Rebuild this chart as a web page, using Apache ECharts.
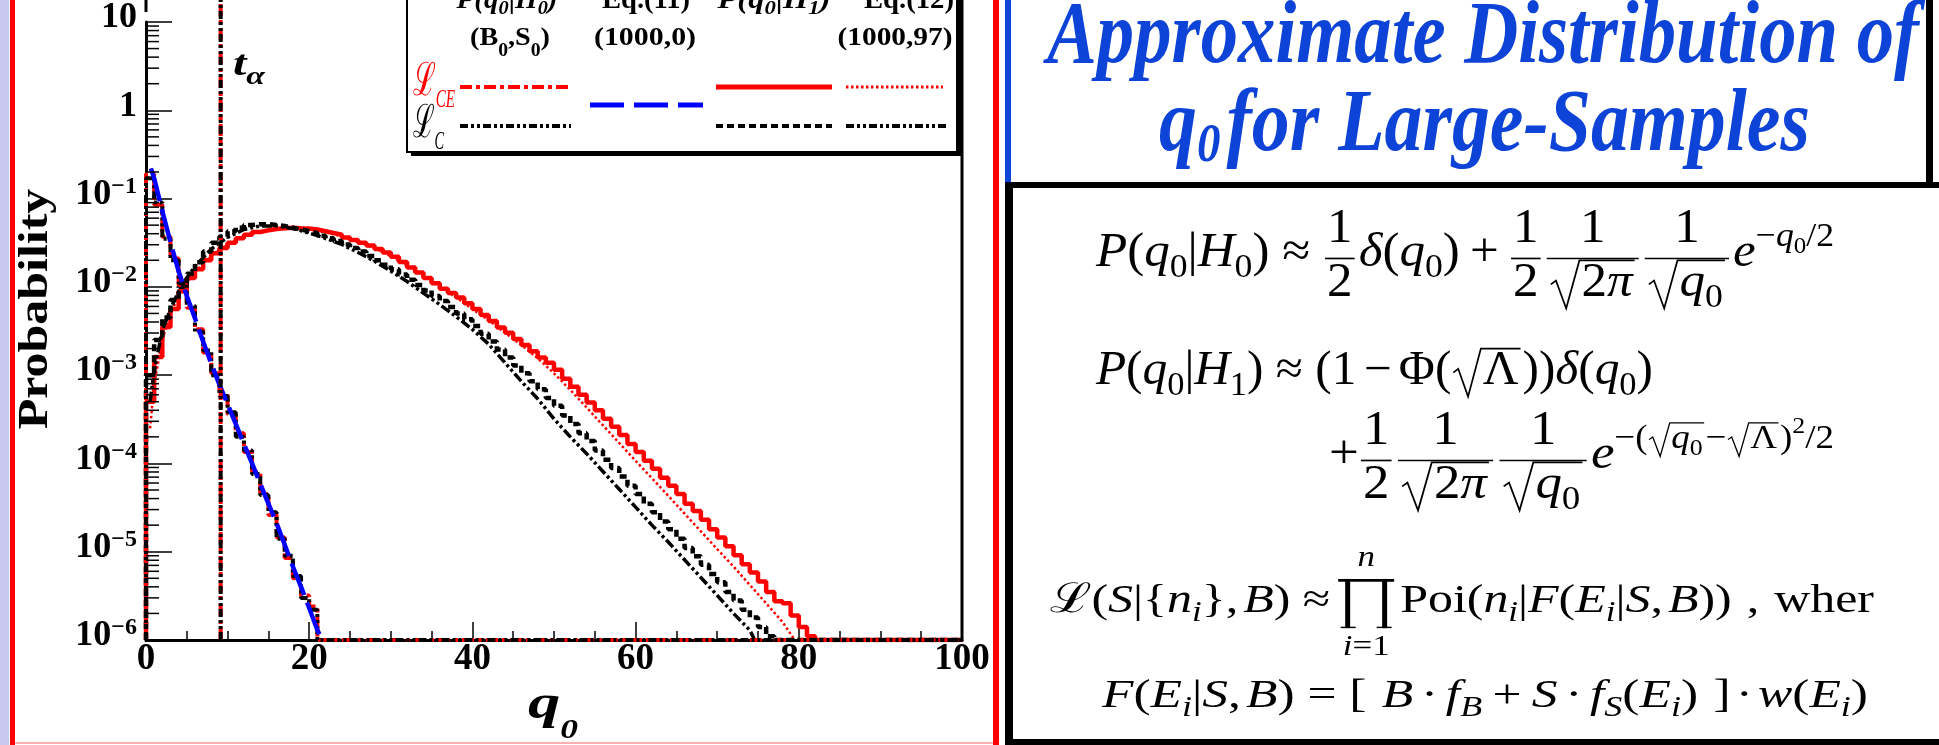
<!DOCTYPE html>
<html><head><meta charset="utf-8">
<style>html,body{margin:0;padding:0;background:#fff}#c{width:1939px;height:745px}</style>
<script src="https://cdn.jsdelivr.net/npm/echarts@6/dist/echarts.min.js"></script>
</head><body><div id="c"></div>
<script>
// ---------------- DATA ----------------
const xTickLabels = ['0','20','40','60','80','100'];
const tAlpha = 9.15;
const floorVal = 1e-6;
// P(q0|H0), L_CE (red dash-dot) : bins of width 1 starting at 0
const h0CE = [0.19,0.085,0.037,0.021,0.0105,0.0058,0.0033,0.0018,0.00105,6.1e-4,3.6e-4,2.2e-4,1.35e-4,8.0e-5,4.5e-5,2.6e-5,1.45e-5,8.5e-6,5.0e-6,3.2e-6,2.4e-6];
// P(q0|H0), L_C (black dash-dot-dot)
const h0C = [0.17,0.09,0.035,0.02,0.011,0.0061,0.0031,0.0019,0.001,5.8e-4,3.8e-4,2.0e-4,1.4e-4,7.6e-5,4.4e-5,2.8e-5,1.4e-5,9.0e-6,5.3e-6,3.0e-6,2.2e-6];
// Eq.(11) blue dashed curve
const eq11Q = [0.6,1,2,3,4,5,6,7,8,9,10,11,12,13,14,15,16,17,18,19,20,21,21.6];
const eq11V = [0.22,0.17,0.072,0.032,0.015,7.9e-3,4.4e-3,2.4e-3,1.35e-3,7.8e-4,4.7e-4,2.8e-4,1.66e-4,1.0e-4,5.9e-5,3.5e-5,2.1e-5,1.2e-5,6.8e-6,4.0e-6,2.3e-6,1.3e-6,1.0e-6];
// P(q0|H1), L_CE (red solid histogram)
const h1CE = [5.0e-4,1.6e-3,3.5e-3,5.6e-3,8.9e-3,0.0126,0.0158,0.020,0.024,0.0275,
0.0316,0.0355,0.039,0.0417,0.0437,0.0452,0.0462,0.0468,0.0462,0.0457,
0.0447,0.0427,0.0407,0.039,0.0363,0.0339,0.0316,0.0295,0.0269,0.0245,
0.0219,0.0191,0.0166,0.0145,0.0126,0.011,0.0095,0.0085,0.0076,0.0065,
0.0056,0.0048,0.0041,0.00347,0.00302,0.00257,0.00219,0.00186,0.00158,0.00138,
0.00115,9.1e-4,7.4e-4,6.0e-4,4.9e-4,4.0e-4,3.2e-4,2.6e-4,2.1e-4,1.66e-4,
1.35e-4,1.07e-4,8.7e-5,6.9e-5,5.6e-5,4.5e-5,3.5e-5,2.9e-5,2.3e-5,1.8e-5,
1.45e-5,1.15e-5,9.1e-6,7.2e-6,5.8e-6,4.6e-6,3.5e-6,2.75e-6,2.6e-6,1.9e-6,
1.4e-6,1.1e-6];
// P(q0|H1), L_C (black short-dash histogram)
const h1C = [1.0e-3,2.5e-3,4.5e-3,7.1e-3,0.010,0.0141,0.019,0.0251,0.0316,0.0372,
0.0427,0.0468,0.0501,0.0513,0.0513,0.0501,0.049,0.0468,0.0447,0.0427,
0.0407,0.038,0.0355,0.0331,0.0302,0.0275,0.0251,0.0224,0.020,0.0178,
0.0158,0.0138,0.012,0.0105,0.0091,0.0079,0.0069,0.0059,0.005,0.0043,
0.0036,0.00295,0.0024,0.00195,0.00158,0.00129,0.00105,8.5e-4,6.9e-4,5.5e-4,
4.5e-4,3.5e-4,2.8e-4,2.2e-4,1.8e-4,1.4e-4,1.1e-4,8.9e-5,7.1e-5,5.6e-5,
4.5e-5,3.5e-5,2.8e-5,2.2e-5,1.8e-5,1.4e-5,1.1e-5,8.9e-6,7.1e-6,5.6e-6,
4.5e-6,3.5e-6,2.8e-6,2.2e-6,1.8e-6,1.4e-6,1.1e-6];
// Eq.(12), L_CE (red dotted curve)
const eq12CEQ = [0.5,1,2,3,4,5,6,8,10,12,14,16,18,20,22,24,26,28,30,32,34,36,38,40,42,44,46,48,50,52,54,56,58,60,62,64,66,68,70,72,74,76,78,79.5];
const eq12CEV = [2.5e-4,7.9e-4,2.5e-3,5.0e-3,7.9e-3,0.0112,0.0148,0.0224,0.0302,0.0372,0.0427,0.0457,0.0462,0.0447,0.0417,0.0372,0.0324,0.0275,0.0224,0.0174,0.0132,0.010,0.0076,0.0056,0.0042,0.0030,0.0022,0.00155,0.00105,6.8e-4,4.3e-4,2.7e-4,1.7e-4,1.07e-4,6.8e-5,4.3e-5,2.7e-5,1.7e-5,1.07e-5,6.8e-6,4.2e-6,2.6e-6,1.6e-6,1.0e-6];
// Eq.(12), L_C (black dash-dot-dot curve)
const eq12CQ = [0.5,1,2,3,4,5,6,8,10,12,14,16,18,20,22,24,26,28,30,32,34,36,38,40,42,44,46,48,50,52,54,56,58,60,62,64,66,68,70,72,74,74.6];
const eq12CV = [5.0e-4,1.12e-3,3.2e-3,5.6e-3,8.9e-3,0.0126,0.017,0.0269,0.0363,0.0447,0.049,0.049,0.0457,0.0407,0.0355,0.0302,0.0245,0.0195,0.0151,0.0115,0.0085,0.0063,0.0046,0.0033,0.00224,0.00138,8.5e-4,5.4e-4,3.2e-4,2.0e-4,1.29e-4,8.1e-5,5.1e-5,3.2e-5,2.0e-5,1.29e-5,8.1e-6,5.1e-6,3.2e-6,2.0e-6,1.29e-6,1.0e-6];
const yMinorMult = [2,3,4,5,6,7,8,9];
const yDecades = [-6,-5,-4,-3,-2,-1,0];

// ---------------- helpers ----------------
const FAM = 'Liberation Serif';
const RED = '#ff0000', BLUE = '#0000ff', TBLUE = '#0d43d6';
const mc = document.createElement('canvas').getContext('2d');
function fnt(s, it, b, fam){ return (it?'italic ':'') + (b?'bold ':'') + s.toFixed(2) + 'px "' + fam + '"'; }
function mw(t, s, it, b, fam){ mc.font = fnt(s, it, b, fam); return mc.measureText(t).width; }

function lay(items, sz, st, x0, base, els){
  let x = x0;
  for (const raw of items){
    const o = typeof raw === 'string' ? {t: raw} : raw;
    if (o.t !== undefined){
      const s = sz * (o.k || 1);
      const it = o.it !== undefined ? o.it : st.it;
      const b = o.b !== undefined ? o.b : st.b;
      const fam = o.f || st.f;
      const w = mw(o.t, s, it, b, fam);
      if (els) els.push({type:'text', z:100, x:x, y: base + (o.dy||0)*sz - 0.34*s,
        style:{text:o.t, fontFamily:fam, fontSize:s, fontStyle:it?'italic':'normal', fontWeight:b?'bold':'normal',
               fill:o.c||st.c, align:'left', verticalAlign:'middle'}});
      x += w + (o.kern||0)*sz;
    } else if (o.sp !== undefined){
      x += o.sp*sz;
    } else if (o.sub){
      x += lay(o.sub, sz*(o.k||0.7), st, x, base + (o.o!==undefined?o.o:0.2)*sz, els);
    } else if (o.sup){
      x += lay(o.sup, sz*(o.k||0.7), st, x, base - (o.o!==undefined?o.o:0.45)*sz, els);
    } else if (o.fr){
      const wn = lay(o.fr[0], sz, st, 0, 0, null);
      const wd = lay(o.fr[1], sz, st, 0, 0, null);
      const W = Math.max(wn, wd) + 0.16*sz;
      const ax = base - 0.24*sz;
      lay(o.fr[0], sz, st, x + (W-wn)/2, ax - 0.26*sz, els);
      lay(o.fr[1], sz, st, x + (W-wd)/2, ax + 0.86*sz, els);
      if (els) els.push({type:'line', z:100, shape:{x1:x+0.04*sz, y1:ax, x2:x+W-0.04*sz, y2:ax}, style:{stroke:st.c, lineWidth:Math.max(1.2,0.035*sz)}});
      x += W + 0.04*sz;
    } else if (o.sq){
      const wc = lay(o.sq, sz, st, 0, 0, null);
      const top = base - 0.82*sz;
      const rx = x + 0.04*sz;
      const cx = rx + 0.6*sz;
      if (els) els.push({type:'polyline', z:100, shape:{points:[[rx,base-0.32*sz],[rx+0.1*sz,base-0.4*sz],[rx+0.3*sz,base+0.18*sz],[rx+0.56*sz,top],[cx+wc+0.04*sz,top]]},
        style:{stroke:st.c, lineWidth:Math.max(1.2,0.035*sz), fill:null}});
      lay(o.sq, sz, st, cx, base, els);
      x = cx + wc + 0.08*sz;
    } else if (o.prod){
      const W = 1.12*sz, top = base - 0.88*sz, bot = base + 0.32*sz;
      const px = x + 0.06*sz;
      if (els){
        const r = (a,b,c,d) => els.push({type:'rect', z:100, shape:{x:a,y:b,width:c,height:d}, style:{fill:st.c}});
        r(px, top, W, 0.07*sz);
        r(px+0.14*sz, top, 0.1*sz, bot-top);
        r(px+W-0.24*sz, top, 0.1*sz, bot-top);
        r(px+0.05*sz, bot-0.035*sz, 0.3*sz, 0.035*sz);
        r(px+W-0.35*sz, bot-0.035*sz, 0.3*sz, 0.035*sz);
      }
      const wu = lay(o.prod[0], sz*0.7, st, 0, 0, null);
      const wl = lay(o.prod[1], sz*0.7, st, 0, 0, null);
      lay(o.prod[0], sz*0.7, st, px+(W-wu)/2, base-1.13*sz, els);
      lay(o.prod[1], sz*0.7, st, px+(W-wl)/2, base+1.02*sz, els);
      x = px + W + 0.12*sz;
    }
  }
  return x - x0;
}
function block(items, opt){
  const st = {it:!!opt.it, b:!!opt.b, f:opt.f||FAM, c:opt.c||'#000'};
  const wn = lay(items, opt.sz, st, 0, 0, null);
  const els = [];
  lay(items, opt.sz, st, 0, 0, els);
  const sx = opt.w ? opt.w / wn : 1;
  const gx = opt.align === 'center' ? opt.x - wn*sx/2 : opt.x;
  return {type:'group', x:gx, y:opt.base, scaleX:sx, scaleY:opt.sy||1, children:els};
}
function hist(vals){
  const d = [[0, floorVal]];
  vals.forEach((v,i) => d.push([i, v]));
  d.push([vals.length, floorVal]);
  d.push([100, floorVal]);
  return d;
}
function curve(qs, vs){ return qs.map((q,i) => [q, vs[i]]); }
const minorData = [];
yDecades.forEach(d => yMinorMult.forEach(m => minorData.push([0, m*Math.pow(10,d)])));

// ---------------- graphics (legend, title, equations, frames) ----------------
const I = t => ({t:t, it:1});
const q0 = [I('q'), {sub:['0']}];
const G = [];
// slide decorations
G.push({type:'rect', z:100, shape:{x:0,y:0,width:9,height:745}, style:{fill:'#c9c9ef'}});
G.push({type:'rect', z:100, shape:{x:10,y:0,width:5,height:745}, style:{fill:RED}});
G.push({type:'rect', z:100, shape:{x:15,y:742,width:978,height:2}, style:{fill:'#ffb0b0'}});
G.push({type:'rect', z:100, shape:{x:993,y:0,width:6,height:745}, style:{fill:RED}});
G.push({type:'rect', z:100, shape:{x:1005,y:0,width:6,height:183}, style:{fill:TBLUE}});
G.push({type:'rect', z:100, shape:{x:1926,y:0,width:7,height:183}, style:{fill:'#000'}});
G.push({type:'rect', z:100, shape:{x:1005,y:182,width:940,height:6}, style:{fill:'#000'}});
G.push({type:'rect', z:100, shape:{x:1005,y:182,width:8,height:570}, style:{fill:'#000'}});
G.push({type:'rect', z:100, shape:{x:1005,y:739,width:940,height:6}, style:{fill:'#000'}});
// plot frame pieces above the top decade / right side
G.push({type:'line', z:50, shape:{x1:146,y1:0,x2:146,y2:12}, style:{stroke:'#000', lineWidth:3}});
G.push({type:'line', z:50, shape:{x1:962,y1:0,x2:962,y2:641}, style:{stroke:'#000', lineWidth:3}});
// legend box
G.push({type:'rect', z:100, shape:{x:411,y:-10,width:551,height:166}, style:{fill:'#000'}});
G.push({type:'rect', z:100, shape:{x:407,y:-10,width:550,height:162}, style:{fill:'#fff', stroke:'#000', lineWidth:2}});
const legLine = (x1,x2,y,c,w,dash) => G.push({type:'line', z:101, shape:{x1:x1,y1:y,x2:x2,y2:y}, style:{stroke:c, lineWidth:w, lineDash:dash||null}});
legLine(460,571,87,RED,4,[12,4,4,4]);
legLine(590,703,105,BLUE,5,[34,10]);
legLine(716,832,87,RED,5,null);
legLine(846,943,87,RED,3,[2.5,2.5]);
legLine(460,571,126,'#000',4,[8,3,3,3,3,3]);
legLine(716,832,126,'#000',4,[7,4]);
legLine(846,946,126,'#000',4,[8,3,3,3,3,3]);
const hdrH = n => [I('P'),'(',I('q'),{sub:[I('0')]},'|',I('H'),{sub:[I(n)]},')'];
G.push(block(hdrH('0'), {x:507, base:10, sz:28, b:1, it:1, align:'center', w:101}));
G.push(block(['Eq.(11)'], {x:646, base:10, sz:28, b:1, align:'center', w:88}));
G.push(block(hdrH('1'), {x:774, base:10, sz:28, b:1, it:1, align:'center', w:113}));
G.push(block(['Eq.(12)'], {x:909, base:10, sz:28, b:1, align:'center', w:90}));
G.push(block(['(B',{sub:['0'],o:0.4},',S',{sub:['0'],o:0.4},')'], {x:510, base:47, sz:26, b:1, align:'center', w:80}));
G.push(block(['(1000,0)'], {x:645, base:47, sz:26, b:1, align:'center', w:102}));
G.push(block(['(1000,97)'], {x:895, base:47, sz:26, b:1, align:'center', w:115}));
G.push(block([{t:'ℒ', f:'DejaVu Serif', it:0}, {sub:[I('CE')], o:0.22, k:0.55}], {x:413, base:99, sz:46, c:RED, w:42}));
G.push(block([{t:'ℒ', f:'DejaVu Serif', it:0}, {sub:[I('C')], o:0.22, k:0.55}], {x:413, base:141, sz:46, c:'#000', w:31}));
// t_alpha label
G.push(block([I('t'), {sub:[I('α')], o:0.22}], {x:233, base:78, sz:36, b:1, it:1, w:32}));
// x-axis title
G.push(block([I('q'), {sub:[I('0')], k:0.55, o:0.37}], {x:528, base:722, sz:48, b:1, it:1, w:50}));
// y-axis title
G.push({type:'text', z:100, x:36, y:309, rotation:Math.PI/2, scaleX:1.19,
  style:{text:'Probability', fontFamily:FAM, fontWeight:'bold', fontSize:42, fill:'#000', align:'center', verticalAlign:'middle'}});
// title
G.push(block(['Approximate Distribution of'], {x:1047, base:69, sz:86, b:1, it:1, c:TBLUE, w:872, sy:1.04}));
G.push(block([I('q'), {sub:['0'], k:0.62, o:0.1}, {sp:0.08}, 'for Large-Samples'], {x:1159, base:157, sz:86, b:1, it:1, c:TBLUE, w:651, sy:1.04}));
// equations
const frHalf = {fr:[['1'],['2']]};
const frPi = {fr:[['1'],[{sq:['2', I('π')]}]]};
const frQ = {fr:[['1'],[{sq:q0}]]};
const eq1 = [I('P'),'(',...q0,'|',I('H'),{sub:['0']},')',{sp:0.25},'≈',{sp:0.25},frHalf,I('δ'),'(',...q0,')',{sp:0.2},'+',{sp:0.2},frHalf,frPi,frQ,I('e'),{sup:['−',...q0,'/2']}];
const eq2 = [I('P'),'(',...q0,'|',I('H'),{sub:['1']},')',{sp:0.25},'≈',{sp:0.25},'(1',{sp:0.15},'−',{sp:0.15},'Φ(',{sq:['Λ']},'))',I('δ'),'(',...q0,')'];
const eq3 = ['+',frHalf,frPi,frQ,I('e'),{sup:['−(',{sq:q0},'−',{sq:['Λ']},')',{sup:['2']},'/2']}];
const eq4 = [{t:'ℒ', f:'DejaVu Serif', it:0},'(',I('S'),'|{',I('n'),{sub:[I('i')]},'},',{sp:0.1},I('B'),')',{sp:0.25},'≈',{sp:0.1},{prod:[[I('n')],[I('i'),'=1']]},'Poi(',I('n'),{sub:[I('i')]},'|',I('F'),'(',I('E'),{sub:[I('i')]},'|',I('S'),',',{sp:0.1},I('B'),'))',{sp:0.3},',',{sp:0.3},'wher'];
const eq5 = [I('F'),'(',I('E'),{sub:[I('i')]},'|',I('S'),',',{sp:0.1},I('B'),')',{sp:0.25},'=',{sp:0.25},'[',{sp:0.3},I('B'),{sp:0.15},'·',{sp:0.15},I('f'),{sub:[I('B')]},{sp:0.2},'+',{sp:0.2},I('S'),{sp:0.15},'·',{sp:0.15},I('f'),{sub:[I('S')]},'(',I('E'),{sub:[I('i')]},')',{sp:0.3},']',{sp:0.1},'·',{sp:0.1},I('w'),'(',I('E'),{sub:[I('i')]},')'];
G.push(block(eq1, {x:1096, base:270, sz:48, w:738}));
G.push(block(eq2, {x:1096, base:388, sz:48, w:557}));
G.push(block(eq3, {x:1329, base:472, sz:48, w:505}));
G.push(block(eq4, {x:1050, base:615, sz:41, w:824}));
G.push(block(eq5, {x:1102, base:710, sz:41, w:766}));

// ---------------- chart ----------------
const chart = echarts.init(document.getElementById('c'), null, {renderer:'canvas'});
const serif = 'Liberation Serif';
chart.setOption({
  animation:false,
  backgroundColor:'#fff',
  grid:{left:146, right:977, top:10, bottom:105, show:false},
  xAxis:{type:'value', min:0, max:100, interval:20,
    axisLine:{show:true, onZero:false, lineStyle:{color:'#000', width:3}},
    axisTick:{show:true, inside:true, length:18, lineStyle:{color:'#000', width:1.5}},
    minorTick:{show:true, splitNumber:4, length:9, lineStyle:{color:'#000', width:1.5}},
    splitLine:{show:false},
    axisLabel:{margin:1, fontFamily:serif, fontWeight:'bold', fontSize:37, color:'#000',
      formatter:(v) => xTickLabels[Math.round(v/20)]}
  },
  yAxis:{type:'log', logBase:10, min:1e-6, max:10, splitNumber:7,
    axisLine:{show:true, onZero:false, lineStyle:{color:'#000', width:3}},
    axisTick:{show:true, inside:true, length:26, lineStyle:{color:'#000', width:1.5}},
    splitLine:{show:false},
    axisLabel:{margin:9, color:'#000', padding:[0,0,8,0],
      formatter:(v) => { const e = Math.round(Math.log10(v)); if (e===0) return '{b|1}'; if (e===1) return '{b|10}'; return '{b|10}{s|−' + (-e) + '}'; },
      rich:{b:{fontFamily:serif, fontWeight:'bold', fontSize:36, lineHeight:40, color:'#000'},
            s:{fontFamily:serif, fontWeight:'bold', fontSize:24, verticalAlign:'top', lineHeight:40, color:'#000'}}
    }
  },
  graphic:{elements:G},
  series:[
    {type:'custom', data:minorData, silent:true, clip:false, z:5,
      renderItem:(p, api) => { const c = api.coord([api.value(0), api.value(1)]);
        return {type:'line', shape:{x1:c[0], y1:c[1], x2:c[0]+13, y2:c[1]}, style:{stroke:'#000', lineWidth:1.5}}; }},
    {name:'H1 CE', type:'line', step:'end', symbol:'none', data:hist(h1CE), lineStyle:{color:RED, width:4.5}},
    {name:'Eq12 CE', type:'line', symbol:'none', data:curve(eq12CEQ, eq12CEV), lineStyle:{color:RED, width:2.5, type:[2.5,2.5]}},
    {name:'H1 C', type:'line', step:'end', symbol:'none', data:hist(h1C), lineStyle:{color:'#000', width:4.5, type:[7,4]}},
    {name:'Eq12 C', type:'line', symbol:'none', data:curve(eq12CQ, eq12CV), lineStyle:{color:'#000', width:3.5, type:[10,3,3,3,3,3]}},
    {name:'H0 CE', type:'line', step:'end', symbol:'none', data:hist(h0CE), lineStyle:{color:RED, width:4, type:[12,4,4,4]}},
    {name:'H0 C', type:'line', step:'end', symbol:'none', data:hist(h0C), lineStyle:{color:'#000', width:4, type:[8,3,3,3,3,3]}},
    {name:'Eq11', type:'line', symbol:'none', data:curve(eq11Q, eq11V), lineStyle:{color:BLUE, width:4.5, type:[34,8]}},
    {name:'t red', type:'line', symbol:'none', clip:false, data:[[tAlpha, floorVal],[tAlpha, 100]], lineStyle:{color:RED, width:4, type:[12,4,4,4]}},
    {name:'t black', type:'line', symbol:'none', clip:false, data:[[tAlpha, floorVal],[tAlpha, 100]], lineStyle:{color:'#000', width:4, type:[8,3,3,3,3,3]}}
  ]
});
</script></body></html>
